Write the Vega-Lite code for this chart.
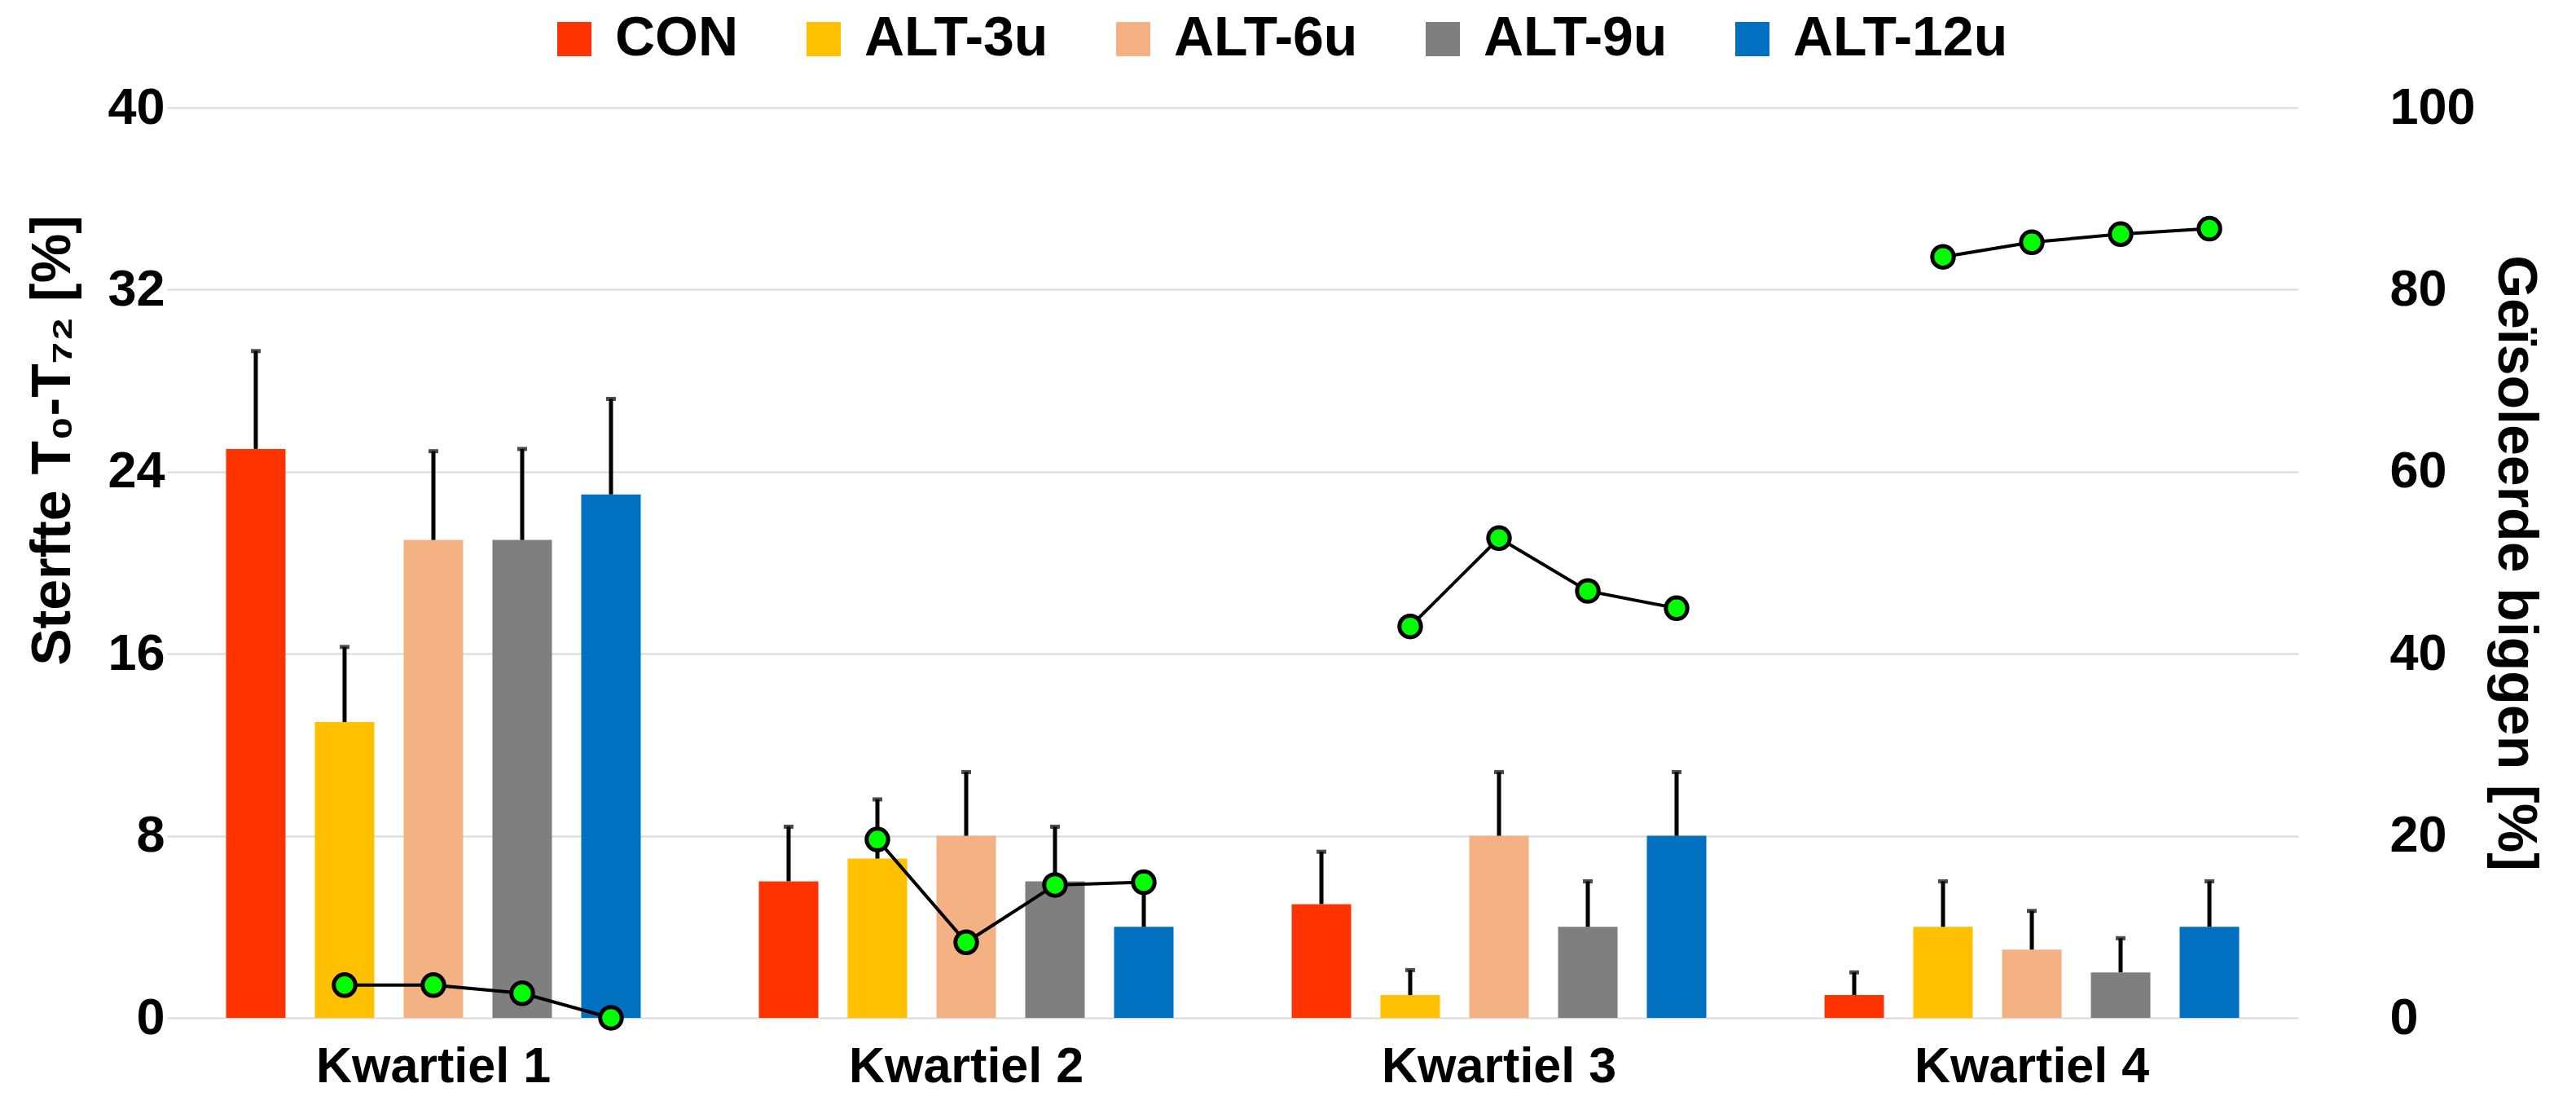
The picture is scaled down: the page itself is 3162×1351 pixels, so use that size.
{
  "$schema": "https://vega.github.io/schema/vega-lite/v6.json",
  "autosize": {"type": "none"},
  "width": 2616,
  "height": 1117,
  "padding": {"left": 259, "top": 132, "right": 287, "bottom": 102},
  "background": "white",
  "config": {
    "font": "Liberation Sans",
    "view": {"stroke": null}
  },
  "datasets": {
    "bars": [
      {"q": "Kwartiel 1", "g": "CON", "v": 25, "hi": 29.3},
      {"q": "Kwartiel 1", "g": "ALT-3u", "v": 13, "hi": 16.3},
      {"q": "Kwartiel 1", "g": "ALT-6u", "v": 21, "hi": 24.9},
      {"q": "Kwartiel 1", "g": "ALT-9u", "v": 21, "hi": 25.0},
      {"q": "Kwartiel 1", "g": "ALT-12u", "v": 23, "hi": 27.2},
      {"q": "Kwartiel 2", "g": "CON", "v": 6, "hi": 8.4},
      {"q": "Kwartiel 2", "g": "ALT-3u", "v": 7, "hi": 9.6},
      {"q": "Kwartiel 2", "g": "ALT-6u", "v": 8, "hi": 10.8},
      {"q": "Kwartiel 2", "g": "ALT-9u", "v": 6, "hi": 8.4},
      {"q": "Kwartiel 2", "g": "ALT-12u", "v": 4, "hi": 5.9},
      {"q": "Kwartiel 3", "g": "CON", "v": 5, "hi": 7.3},
      {"q": "Kwartiel 3", "g": "ALT-3u", "v": 1, "hi": 2.1},
      {"q": "Kwartiel 3", "g": "ALT-6u", "v": 8, "hi": 10.8},
      {"q": "Kwartiel 3", "g": "ALT-9u", "v": 4, "hi": 6.0},
      {"q": "Kwartiel 3", "g": "ALT-12u", "v": 8, "hi": 10.8},
      {"q": "Kwartiel 4", "g": "CON", "v": 1, "hi": 2.0},
      {"q": "Kwartiel 4", "g": "ALT-3u", "v": 4, "hi": 6.0},
      {"q": "Kwartiel 4", "g": "ALT-6u", "v": 3, "hi": 4.7},
      {"q": "Kwartiel 4", "g": "ALT-9u", "v": 2, "hi": 3.5},
      {"q": "Kwartiel 4", "g": "ALT-12u", "v": 4, "hi": 6.0}
    ],
    "iso": [
      {"q": "Kwartiel 1", "g": "ALT-3u", "k": 2, "p": 3.6},
      {"q": "Kwartiel 1", "g": "ALT-6u", "k": 3, "p": 3.6},
      {"q": "Kwartiel 1", "g": "ALT-9u", "k": 4, "p": 2.7},
      {"q": "Kwartiel 1", "g": "ALT-12u", "k": 5, "p": 0},
      {"q": "Kwartiel 2", "g": "ALT-3u", "k": 2, "p": 19.6},
      {"q": "Kwartiel 2", "g": "ALT-6u", "k": 3, "p": 8.3},
      {"q": "Kwartiel 2", "g": "ALT-9u", "k": 4, "p": 14.6},
      {"q": "Kwartiel 2", "g": "ALT-12u", "k": 5, "p": 14.9},
      {"q": "Kwartiel 3", "g": "ALT-3u", "k": 2, "p": 43.0},
      {"q": "Kwartiel 3", "g": "ALT-6u", "k": 3, "p": 52.7},
      {"q": "Kwartiel 3", "g": "ALT-9u", "k": 4, "p": 46.9},
      {"q": "Kwartiel 3", "g": "ALT-12u", "k": 5, "p": 45.0},
      {"q": "Kwartiel 4", "g": "ALT-3u", "k": 2, "p": 83.6},
      {"q": "Kwartiel 4", "g": "ALT-6u", "k": 3, "p": 85.2},
      {"q": "Kwartiel 4", "g": "ALT-9u", "k": 4, "p": 86.1},
      {"q": "Kwartiel 4", "g": "ALT-12u", "k": 5, "p": 86.7}
    ]
  },
  "encoding": {
    "x": {
      "field": "q", "type": "nominal",
      "scale": {"range": [-54, 2562], "paddingInner": 0.1667, "paddingOuter": 0.0833},
      "axis": {
        "title": null, "labelAngle": 0, "labelFontSize": 61, "labelFontWeight": "bold", "labelLimit": 0,
        "labelColor": "black", "labelPadding": 30, "domain": false, "ticks": false, "grid": false
      }
    },
    "xOffset": {
      "field": "g", "type": "nominal",
      "sort": ["CON", "ALT-3u", "ALT-6u", "ALT-9u", "ALT-12u"],
      "scale": {"domain": ["CON", "ALT-3u", "ALT-6u", "ALT-9u", "ALT-12u"], "paddingInner": 0.33, "paddingOuter": 0.165}
    }
  },
  "layer": [
    {
      "data": {"name": "bars"},
      "encoding": {
        "y": {
          "field": "v", "type": "quantitative",
          "scale": {"domain": [0, 40]},
          "axis": {
            "orient": "left", "values": [0, 8, 16, 24, 32, 40],
            "title": "Sterfte T₀-T₇₂ [%]", "titleFontSize": 68, "titleFontWeight": "bold", "titleColor": "black",
            "titleX": -194, "titleY": 408, "titleBaseline": "middle", "titleAlign": "center", "titleAngle": 270,
            "labelFontSize": 63, "labelFontWeight": "bold", "labelColor": "black", "labelPadding": 57,
            "domain": false, "ticks": false, "grid": true, "gridColor": "#D9D9D9", "gridWidth": 2
          }
        }
      },
      "layer": [
        {
          "mark": {"type": "bar"},
          "encoding": {
            "color": {
              "field": "g", "type": "nominal",
              "scale": {
                "domain": ["CON", "ALT-3u", "ALT-6u", "ALT-9u", "ALT-12u"],
                "range": ["#FF3300", "#FFC000", "#F4B183", "#7F7F7F", "#0070C0"]
              },
              "legend": {
                "title": null, "orient": "none", "direction": "horizontal",
                "legendX": 412, "legendY": -118,
                "symbolType": "square", "symbolSize": 1764, "symbolStrokeWidth": 0,
                "labelFontSize": 68, "labelFontWeight": "bold", "labelColor": "black", "labelLimit": 0,
                "labelOffset": 16, "columnPadding": 70
              }
            }
          }
        },
        {
          "mark": {"type": "rule", "color": "black", "strokeWidth": 5},
          "encoding": {"y2": {"field": "hi"}}
        },
        {
          "mark": {"type": "tick", "color": "black", "size": 12, "thickness": 5, "orient": "horizontal"},
          "encoding": {"y": {"field": "hi", "type": "quantitative"}}
        }
      ]
    },
    {
      "data": {"name": "iso"},
      "encoding": {
        "y": {
          "field": "p", "type": "quantitative",
          "scale": {"domain": [0, 100]},
          "axis": {
            "orient": "right", "values": [0, 20, 40, 60, 80, 100],
            "title": "Geïsoleerde biggen [%]", "titleFontSize": 68, "titleFontWeight": "bold", "titleColor": "black",
            "titleX": 211, "titleBaseline": "middle",
            "labelFontSize": 63, "labelFontWeight": "bold", "labelColor": "black", "labelPadding": 58,
            "domain": false, "ticks": false, "grid": false
          }
        }
      },
      "layer": [
        {
          "mark": {"type": "line", "color": "black", "strokeWidth": 4},
          "encoding": {"detail": {"field": "q"}, "order": {"field": "k", "type": "quantitative"}}
        },
        {
          "mark": {"type": "point", "filled": true, "fill": "#00FF00", "stroke": "black", "strokeWidth": 5, "size": 700, "opacity": 1},
          "encoding": {}
        }
      ]
    }
  ],
  "resolve": {"scale": {"y": "independent"}, "axis": {"y": "independent"}}
}
